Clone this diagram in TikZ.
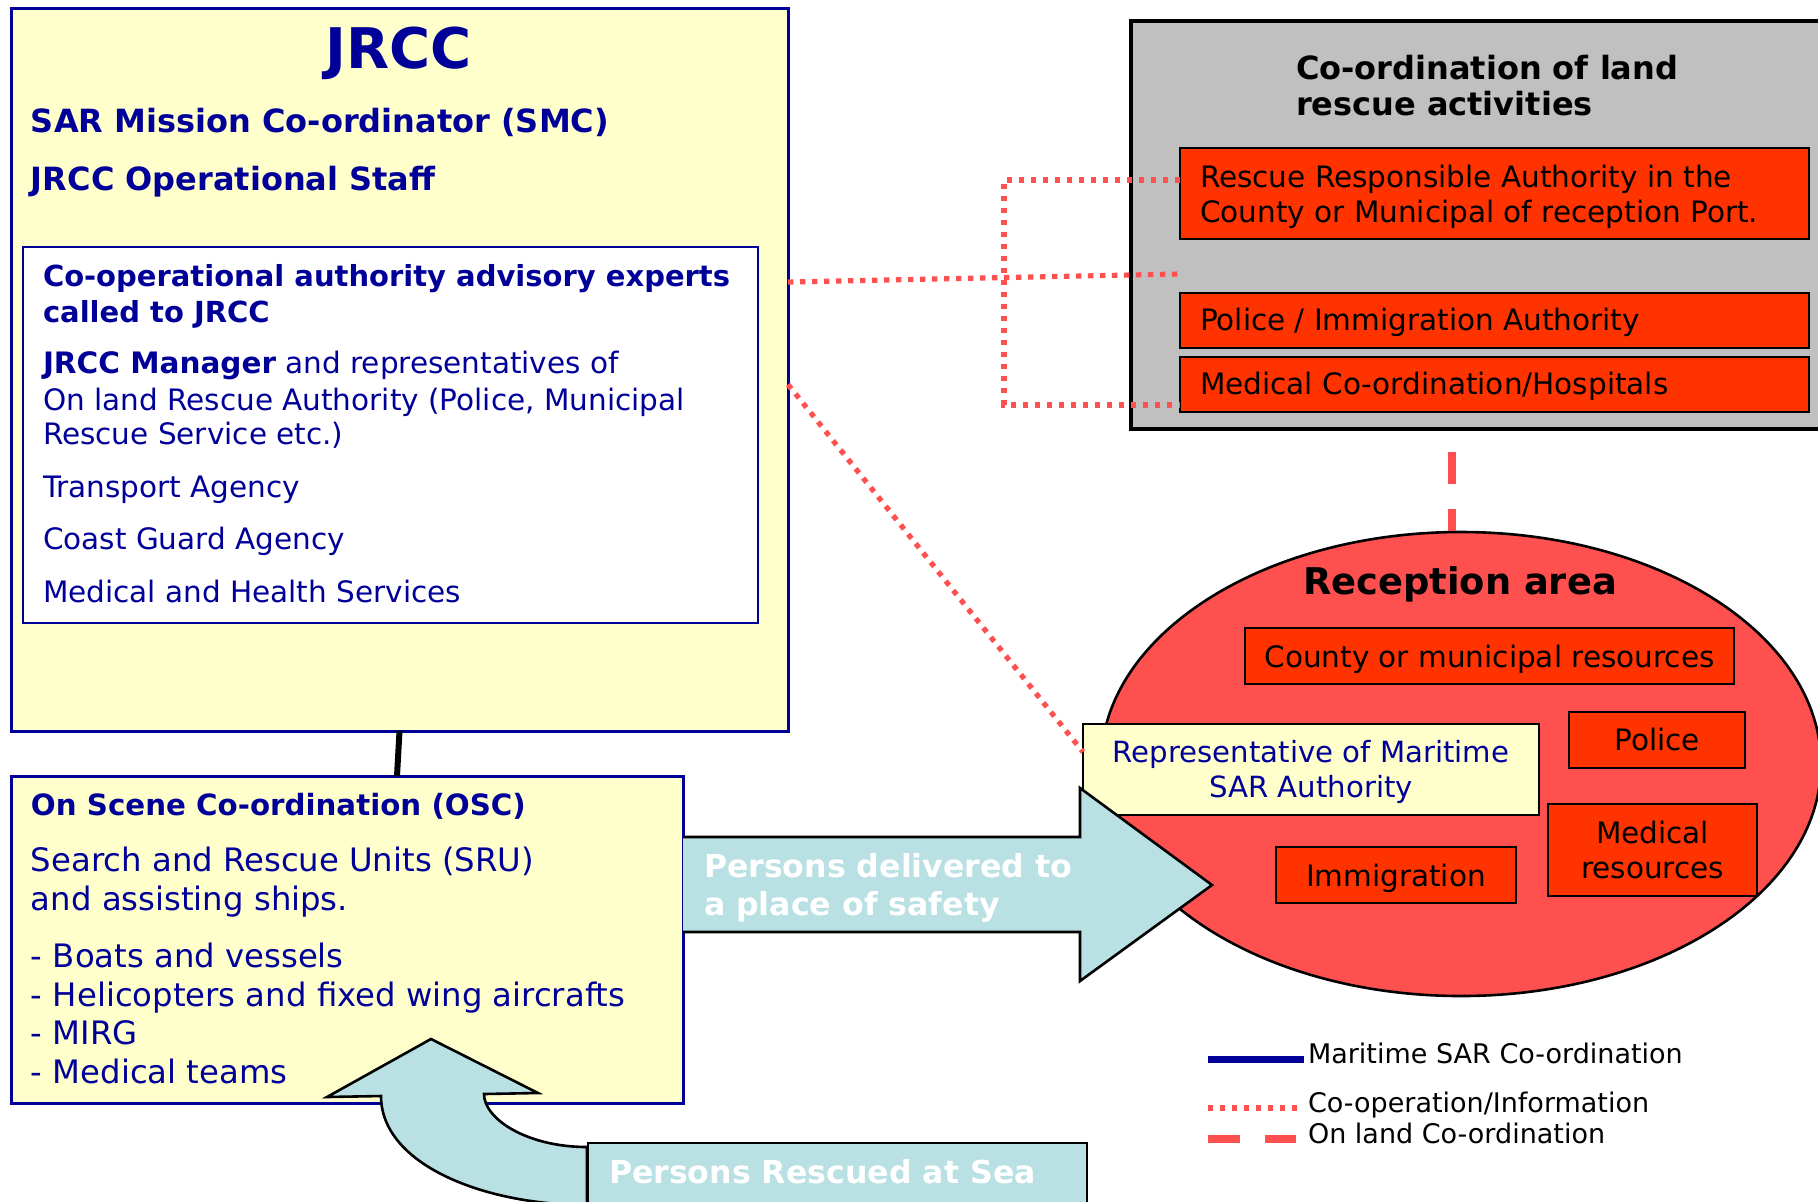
\documentclass[tikz,border=0pt]{standalone}
\usepackage{fontspec}
\setmainfont{DejaVu Sans}
\usetikzlibrary{shapes.geometric}
\definecolor{navy}{HTML}{000099}
\definecolor{lyel}{HTML}{FFFFCC}
\definecolor{rbox}{HTML}{FF3300}
\definecolor{rell}{HTML}{FF5050}
\definecolor{abl}{HTML}{B9E0E3}
\definecolor{gry}{HTML}{C0C0C0}
\newcommand\myfs[1]{\fontsize{#1}{#1}\selectfont}
\begin{document}
\begin{tikzpicture}[x=0.5pt,y=-0.5pt,
  bx/.style={draw, anchor=north west, inner sep=0pt, outer sep=0pt},
  tx/.style={anchor=base west, inner sep=0pt, outer sep=0pt},
  tc/.style={anchor=base, inner sep=0pt, outer sep=0pt},
  dotline/.style={draw=rell, line width=2.6pt, dash pattern=on 2.7pt off 3.3pt},
  dashline/.style={draw=rell, line width=3.6pt, dash pattern=on 16pt off 12.5pt},
  bl/.style={text=navy},
]
\useasboundingbox (0,0) rectangle (1818,1201);
\clip (0,0) rectangle (1818,1201);
\fill[white] (0,0) rectangle (1818,1201);

% ---------- JRCC ----------
\node[bx, fill=lyel, draw=navy, line width=1.5pt, minimum width=388.5pt, minimum height=361.5pt] (jrcc) at (11,8) {};
\node[tc, bl, font=\bfseries\myfs{28}] (jt) at (399,68) {JRCC};
\node[tx, bl, font=\bfseries\myfs{16}] (smc) at (31,132) {SAR Mission Co-ordinator (SMC)};
\node[tx, bl, font=\bfseries\myfs{16}] (ops) at (31,190) {JRCC Operational Staff};

\node[bx, fill=white, draw=navy, line width=1.3pt, minimum width=367.5pt, minimum height=188pt] (adv) at (23,247) {};
\node[tx, bl, font=\bfseries\myfs{14.5}] (a1) at (43,286) {Co-operational authority advisory experts};
\node[tx, bl, font=\bfseries\myfs{14.5}] (a2) at (43,322) {called to JRCC};
\node[tx, bl, font=\myfs{14.75}] (a3) at (43,373) {\textbf{JRCC Manager} and representatives of};
\node[tx, bl, font=\myfs{14.75}] (a4) at (43,410) {On land Rescue Authority (Police, Municipal};
\node[tx, bl, font=\myfs{14.75}] (a5) at (43,444) {Rescue Service etc.)};
\node[tx, bl, font=\myfs{14.75}] (a6) at (43,497) {Transport Agency};
\node[tx, bl, font=\myfs{14.75}] (a7) at (43,549) {Coast Guard Agency};
\node[tx, bl, font=\myfs{14.75}] (a8) at (43,602) {Medical and Health Services};

% ---------- OSC ----------
\node[bx, fill=lyel, draw=navy, line width=1.5pt, minimum width=336pt, minimum height=163.5pt] (osc) at (11,776) {};
\node[tx, bl, font=\bfseries\myfs{14.65}] (o1) at (31,815) {On Scene Co-ordination (OSC)};
\node[tx, bl, font=\myfs{16.15}] (o2) at (31,871) {Search and Rescue Units (SRU)};
\node[tx, bl, font=\myfs{16.15}] (o3) at (31,910) {and assisting ships.};
\node[tx, bl, font=\myfs{16.15}] (o4) at (31,967) {- Boats and vessels};
\node[tx, bl, font=\myfs{16.15}] (o5) at (31,1006) {- Helicopters and fixed wing aircrafts};
\node[tx, bl, font=\myfs{16.15}] (o6) at (31,1044) {- MIRG};
\node[tx, bl, font=\myfs{16.15}] (o7) at (31,1083) {- Medical teams};

\draw[line width=3pt] (jrcc.south) -- ([xshift=193pt]osc.north west);

% ---------- land co-ordination ----------
\node[bx, fill=gry, line width=1.6pt, minimum width=349.5pt, minimum height=204pt] (grey) at (1131,21) {};
\node[tx, font=\bfseries\myfs{16}] (g1) at (1296,79) {Co-ordination of land};
\node[tx, font=\bfseries\myfs{16}] (g2) at (1296,115) {rescue activities};
\node[bx, fill=rbox, line width=1.2pt, minimum width=314.5pt, minimum height=45.5pt] (rb1) at (1180,148) {};
\node[tx, font=\myfs{14.75}] (r1a) at (1200,187) {Rescue Responsible Authority in the};
\node[tx, font=\myfs{14.75}] (r1b) at (1200,222) {County or Municipal of reception Port.};
\node[bx, fill=rbox, line width=1.2pt, minimum width=314.5pt, minimum height=27.5pt] (rb2) at (1180,293) {};
\node[tx, font=\myfs{14.75}] (r2) at (1200,330) {Police / Immigration Authority};
\node[bx, fill=rbox, line width=1.2pt, minimum width=314.5pt, minimum height=27.5pt] (rb3) at (1180,357) {};
\node[tx, font=\myfs{14.75}] (r3) at (1200,394) {Medical Co-ordination/Hospitals};

% ---------- reception area ----------
\node[ellipse, draw, fill=rell, line width=1.3pt, minimum width=360pt, minimum height=232pt, inner sep=0pt] (rec) at (1461,764) {};
\node[tc, font=\bfseries\myfs{18.4}] (rect) at (1460,594) {Reception area};
\node[bx, fill=rbox, line width=1.2pt, minimum width=244.5pt, minimum height=28pt] (cty) at (1245,628) {};
\node[tc, font=\myfs{14.75}] (ctyt) at (1489.5,667) {County or municipal resources};
\node[bx, fill=rbox, line width=1.2pt, minimum width=88pt, minimum height=28pt] (pol) at (1569,712) {};
\node[tc, font=\myfs{14.75}] (polt) at (1657,750) {Police};
\node[bx, fill=rbox, line width=1.2pt, minimum width=104.5pt, minimum height=46pt] (med) at (1548,804) {};
\node[tc, font=\myfs{14.75}] (medt1) at (1652.5,843) {Medical};
\node[tc, font=\myfs{14.75}] (medt2) at (1652.5,878) {resources};
\node[bx, fill=rbox, line width=1.2pt, minimum width=120pt, minimum height=28pt] (img) at (1276,847) {};
\node[tc, font=\myfs{14.75}] (imgt) at (1396,886) {Immigration};
\node[bx, fill=lyel, line width=1.2pt, minimum width=228pt, minimum height=45.5pt] (rep) at (1083,724) {};
\node[tc, bl, font=\myfs{14.6}] (rept1) at (1311,762) {Representative of Maritime};
\node[tc, bl, font=\myfs{14.6}] (rept2) at (1311,797) {SAR Authority};

% ---------- block arrows ----------
\filldraw[fill=abl, line width=1.3pt, line join=miter] (683,837) -- (1080,837) -- (1080,788) -- (1212,885) -- (1080,981) -- (1080,932) -- (683,932);
\node[tx, text=white, font=\bfseries\myfs{15.8}] (pd1) at (704,877) {Persons delivered to};
\node[tx, text=white, font=\bfseries\myfs{15.8}] (pd2) at (704,915) {a place of safety};

\filldraw[fill=abl, line width=1.3pt, line join=miter] (587,1147) .. controls (527,1147) and (484,1119) .. (484,1094) -- (538,1093) -- (431,1039) -- (327,1097) -- (381,1096) .. controls (381,1164) and (483,1205) .. (587,1205) -- cycle;
\node[bx, fill=abl, line width=1.3pt, minimum width=249.5pt, minimum height=40pt] (prs) at (588,1143) {};
\node[tx, text=white, font=\bfseries\myfs{15.8}] (prst) at (609,1183) {Persons Rescued at Sea};

% ---------- connectors ----------
\coordinate (brk) at (1004,0);
\coordinate (d1) at ([yshift=6.75pt]rb1.west);
\coordinate (d2) at ([yshift=23.25pt]rb2.west);
\coordinate (d3) at ([yshift=-10.25pt]rb3.west);
\coordinate (j1) at ([yshift=43.75pt]jrcc.east);
\coordinate (j2) at ([yshift=-7.5pt]jrcc.east);
\coordinate (rp) at ([yshift=8.75pt]rep.west);
\draw[dotline] (d1) -- (d1 -| brk) -- (d3 -| brk) -- (d3);
\draw[dotline] (j1) -- (d2);
\draw[dotline] (j2) -- (rp);
\coordinate (dtop) at (1452,452);
\draw[dashline] (dtop) -- (dtop |- rec.north);

% ---------- legend ----------
\coordinate (la1) at (1208,1059); \coordinate (lb1) at (1304,1059);
\coordinate (la2) at (1208,1108); \coordinate (lb2) at (1300,1108);
\coordinate (la3) at (1208,1139); \coordinate (lb3) at (1296,1139);
\draw[navy, line width=3.5pt] (la1) -- (lb1);
\draw[dotline, line width=3pt] (la2) -- (lb2);
\draw[dashline, line width=4pt] (la3) -- (lb3);
\node[tx, font=\myfs{13.5}] (lg1) at (1308,1063) {Maritime SAR Co-ordination};
\node[tx, font=\myfs{13.5}] (lg2) at (1308,1112) {Co-operation/Information};
\node[tx, font=\myfs{13.5}] (lg3) at (1308,1143) {On land Co-ordination};
\end{tikzpicture}
\end{document}
